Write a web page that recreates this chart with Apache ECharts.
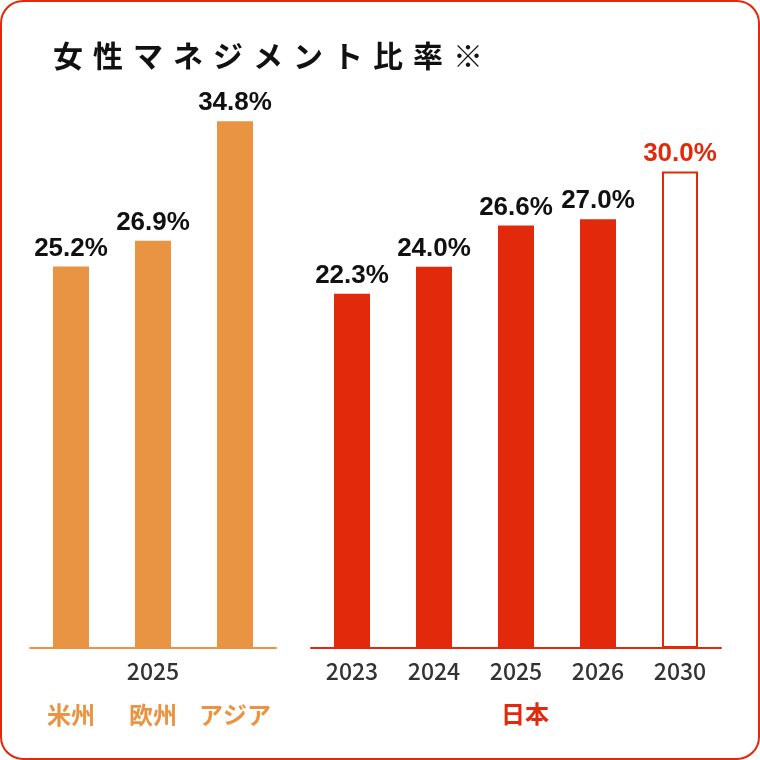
<!DOCTYPE html>
<html>
<head>
<meta charset="utf-8">
<style>
html, body { margin: 0; padding: 0; background: #fff; }
#chart { width: 760px; height: 760px; }
</style>
<script src="https://cdn.jsdelivr.net/npm/echarts@6/dist/echarts.min.js"></script>
</head>
<body>
<div id="chart"></div>
<script>
var titleText = '女性マネジメント比率※';

var regionYear = '2025';
var regionNames = ['米州', '欧州', 'アジア'];
var regionValues = [25.2, 26.9, 34.8];

var japanName = '日本';
var japanYears = ['2023', '2024', '2025', '2026', '2030'];
var japanValues = [22.3, 24.0, 26.6, 27.0, 30.0];
var targetYear = '2030';

var ORANGE = '#e99443';
var RED = '#e2290b';
var CJK = '"Noto Sans CJK JP", "Noto Sans", sans-serif';

var chart = echarts.init(document.getElementById('chart'));

// title drawn one glyph at a time to get the wide letter spacing
var titleChars = titleText.split('').map(function (ch, i) {
	return {
		type: 'text',
		left: 53 + i * 40,
		top: 41,
		style: {
			text: ch,
			fill: '#111',
			font: 'bold 30px ' + CJK
		}
	};
});

var valueLabel = {
	show: true,
	position: 'top',
	distance: 5,
	fontSize: 26,
	fontWeight: 'bold',
	fontFamily: '"Liberation Sans", Arial, sans-serif',
	color: '#111',
	formatter: function (p) { return p.value.toFixed(1) + '%'; }
};

var japanData = japanValues.map(function (v, i) {
	if (japanYears[i] === targetYear) {
		return {
			value: v,
			itemStyle: { color: '#fff', borderColor: RED, borderWidth: 2 },
			label: { color: RED }
		};
	}
	return v;
});

option = {
	animation: false,
	graphic: [{
		type: 'rect',
		shape: { x: 1, y: 1, width: 758, height: 758, r: 22 },
		style: { fill: 'none', stroke: RED, lineWidth: 2 }
	}].concat(titleChars),
	grid: [
		{ left: 30, width: 246, top: 100, bottom: 112 },
		{ left: 311, width: 410, top: 100, bottom: 112 }
	],
	xAxis: [
		{
			type: 'category',
			gridIndex: 0,
			data: regionNames,
			name: regionYear,
			nameLocation: 'middle',
			nameGap: 12,
			nameMoveOverlap: false,
			nameTextStyle: {
				color: '#333',
				fontSize: 23,
				fontWeight: 500,
				fontFamily: CJK,
				verticalAlign: 'top'
			},
			axisLine: { lineStyle: { color: ORANGE, width: 2 } },
			axisTick: { show: false },
			axisLabel: {
				interval: 0,
				margin: 55,
				color: ORANGE,
				fontSize: 24,
				fontWeight: 'bold',
				fontFamily: CJK
			}
		},
		{
			type: 'category',
			gridIndex: 1,
			data: japanYears,
			name: japanName,
			nameLocation: 'middle',
			nameGap: 54,
			nameMoveOverlap: false,
			nameTextStyle: {
				color: RED,
				fontSize: 24,
				fontWeight: 'bold',
				fontFamily: CJK,
				verticalAlign: 'top',
				padding: [0, 0, 0, 18]
			},
			axisLine: { lineStyle: { color: RED, width: 2 } },
			axisTick: { show: false },
			axisLabel: {
				interval: 0,
				margin: 12,
				color: '#333',
				fontSize: 23,
				fontWeight: 500,
				fontFamily: CJK
			}
		}
	],
	yAxis: [
		{ type: 'value', gridIndex: 0, min: 0, max: 36.2, show: false, splitLine: { show: false } },
		{ type: 'value', gridIndex: 1, min: 0, max: 34.5, show: false, splitLine: { show: false } }
	],
	series: [
		{
			type: 'bar',
			xAxisIndex: 0,
			yAxisIndex: 0,
			barWidth: 36,
			itemStyle: { color: ORANGE },
			label: valueLabel,
			data: regionValues
		},
		{
			type: 'bar',
			xAxisIndex: 1,
			yAxisIndex: 1,
			barWidth: 36,
			itemStyle: { color: RED },
			label: valueLabel,
			data: japanData
		}
	]
};

chart.setOption(option);
</script>
</body>
</html>
